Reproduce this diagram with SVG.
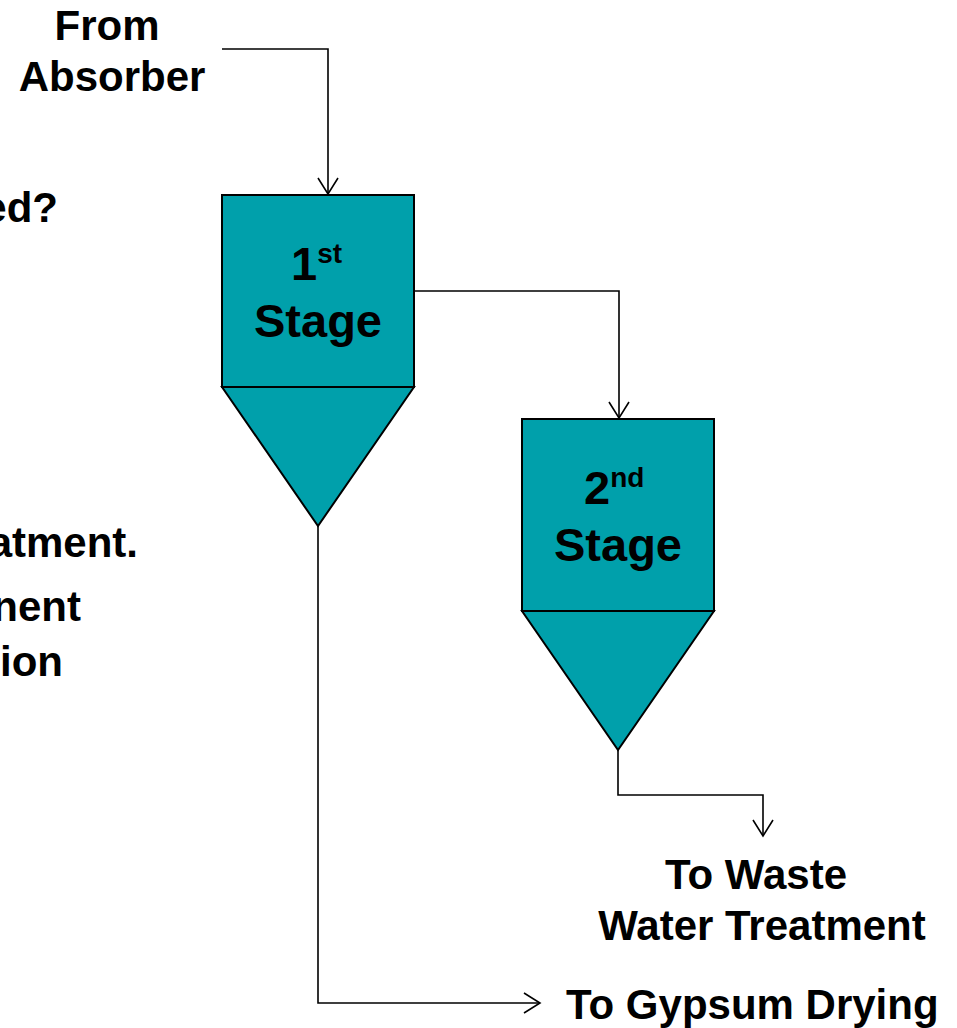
<svg xmlns="http://www.w3.org/2000/svg" width="957" height="1028" viewBox="0 0 957 1028">
<style>
.t{font-family:"Liberation Sans",Arial,sans-serif;font-weight:bold;font-size:42px;fill:#000}
.lbl{font-family:"Liberation Sans",Arial,sans-serif;font-weight:bold;font-size:47px;fill:#000}
.sup{font-size:28px}
.box{fill:#00A0AB;stroke:#000;stroke-width:2}
.ln{fill:none;stroke:#000;stroke-width:1.6}
</style>
<defs>
<marker id="arr" markerUnits="userSpaceOnUse" markerWidth="24" markerHeight="24" refX="17" refY="11" orient="auto" viewBox="0 0 24 22">
<path d="M1,1 L17,11 L1,21" fill="none" stroke="#000" stroke-width="1.6"/>
</marker>
</defs>
<rect width="957" height="1028" fill="#fff"/>
<g id="left-text">
<text class="t" x="58" y="222" text-anchor="end">ed?</text>
<text class="t" x="138" y="557" text-anchor="end">atment.</text>
<text class="t" x="81" y="621" text-anchor="end">nent</text>
<text class="t" x="63" y="676" text-anchor="end">ion</text>
</g>
<g id="from-absorber">
<text class="t" x="107" y="40" text-anchor="middle">From</text>
<text class="t" x="112" y="91" text-anchor="middle">Absorber</text>
</g>
<g id="stage1">
<rect class="box" x="222" y="195" width="192" height="192"/>
<polygon class="box" points="222,387 414,387 318,526"/>
<text class="lbl" x="291" y="280">1<tspan class="sup" dy="-17">st</tspan></text>
<text class="lbl" x="318" y="337" text-anchor="middle">Stage</text>
</g>
<g id="stage2">
<rect class="box" x="522" y="419" width="192" height="192"/>
<polygon class="box" points="522,611 714,611 618,750"/>
<text class="lbl" x="584" y="504">2<tspan class="sup" dy="-17">nd</tspan></text>
<text class="lbl" x="618" y="561" text-anchor="middle">Stage</text>
</g>
<g id="to-wwt">
<text class="t" x="756" y="889" text-anchor="middle">To Waste</text>
<text class="t" x="762" y="940" text-anchor="middle">Water Treatment</text>
</g>
<g id="to-gypsum">
<text class="t" x="566" y="1019">To Gypsum Drying</text>
</g>
<g id="connectors">
<path class="ln" d="M222,49 H328 V194" marker-end="url(#arr)"/>
<path class="ln" d="M414,291 H619 V418" marker-end="url(#arr)"/>
<path class="ln" d="M318,526 V1003 H540" marker-end="url(#arr)"/>
<path class="ln" d="M618,750 V795 H763 V836" marker-end="url(#arr)"/>
</g>
</svg>
